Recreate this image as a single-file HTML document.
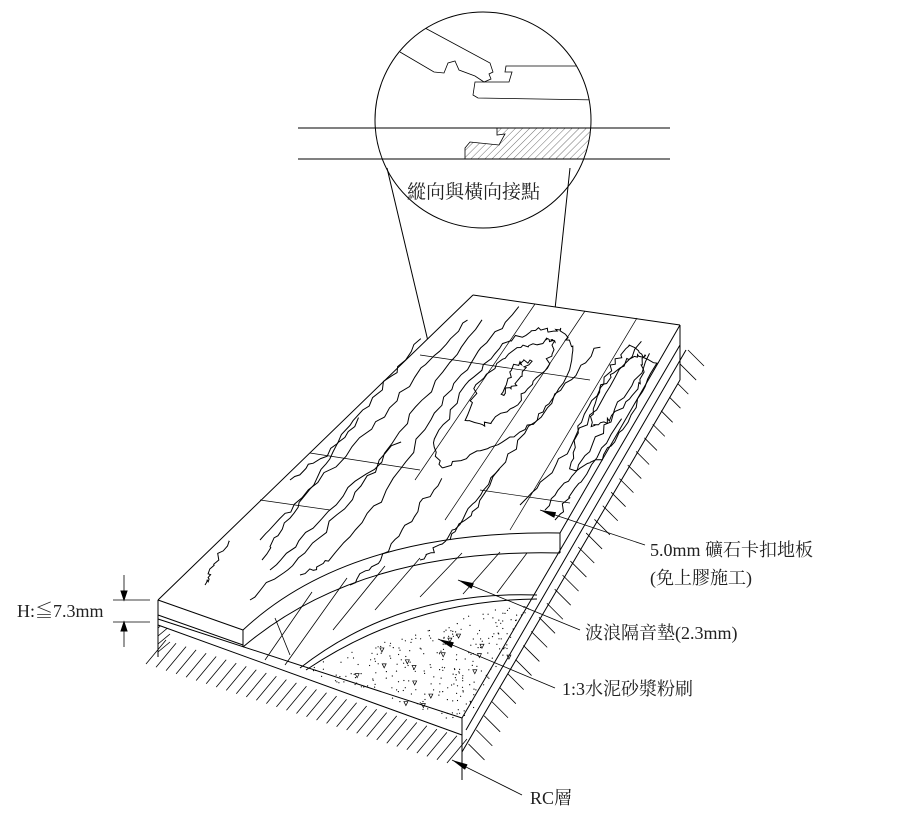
<!DOCTYPE html>
<html><head><meta charset="utf-8"><style>
html,body{margin:0;padding:0;background:#fff;overflow:hidden;width:916px;height:828px}
svg{display:block}
text{font-family:"Liberation Serif","Noto Serif CJK SC","Noto Sans CJK TC",serif;fill:#222}
</style></head><body>
<svg id="s" width="916" height="828" viewBox="0 0 916 828" xmlns="http://www.w3.org/2000/svg">
<defs>
<pattern id="h" width="5" height="5" patternUnits="userSpaceOnUse" patternTransform="rotate(45)"><line x1="0" y1="0" x2="0" y2="5" stroke="#333" stroke-width="0.7"/></pattern>
<clipPath id="cc"><circle cx="483" cy="120" r="108"/></clipPath>
<marker id="ar" markerWidth="16" markerHeight="6" refX="16" refY="3" orient="auto" markerUnits="userSpaceOnUse"><path d="M16,3 L0,0 L0,6 Z" fill="#000"/></marker>
</defs>
<g fill="none" stroke="#000" stroke-width="1">
<circle cx="483" cy="120" r="108"/>
<line x1="298" y1="128" x2="670" y2="128"/>
<line x1="298" y1="159" x2="670" y2="159"/>
<g clip-path="url(#cc)" stroke-width="0.8">
<path d="M425,28 L490,63 L493,72 L489,74 L491,79 L484,82 L475,76 L459,70 L455,61 L448,63 L444,73 L434,72 L400,52"/>
<path d="M586,66 L506,66 L505,72 L512,72 L509,82 L475,82 L473,95 L478,98 L600,100"/>
<path d="M497,128 L497,135 L505,134 L499,145 L470,142 L465,148 L465,159 L600,159 L600,128 Z" fill="url(#h)"/>
</g>
<line x1="387" y1="168" x2="440" y2="392"/>
<line x1="570" y1="168" x2="548" y2="375"/>
<circle cx="442" cy="397" r="7"/>
<circle cx="548" cy="380" r="7"/>

<g id="hatch" stroke-width="0.8"></g>
<path d="M473,295 L680,325 L680,380 L462,735 L158,625 L158,600 Z" fill="#fff" stroke="none"/>
<line x1="473" y1="295" x2="680" y2="325"/>
<line x1="473" y1="295" x2="158" y2="600"/>
<line x1="680" y1="325" x2="680" y2="380"/>
<line x1="680" y1="325" x2="560" y2="533"/>
<line x1="560" y1="533" x2="560" y2="553"/>
<line x1="680" y1="345" x2="462" y2="718"/>
<line x1="686" y1="350" x2="466" y2="730"/>
<line x1="680" y1="380" x2="462" y2="752"/>
<line x1="158" y1="600" x2="158" y2="657"/>
<line x1="158" y1="600" x2="243" y2="630"/>
<line x1="158" y1="615" x2="243" y2="645"/>
<line x1="158" y1="619" x2="462" y2="718"/>
<line x1="158" y1="625" x2="462" y2="735"/>
<line x1="462" y1="718" x2="462" y2="780"/>
<line x1="243" y1="630" x2="243" y2="647"/>
<path d="M243,630 Q350,530 560,533"/>
<path d="M243,647 Q360,548 560,553"/>
<path d="M300,668 Q400,590 537,595"/>
<path d="M306,670 Q410,600 537,599"/>
<g stroke-width="0.8">
<line x1="275" y1="618" x2="290" y2="655"/>
<line x1="312" y1="592" x2="265" y2="660"/>
<line x1="347" y1="578" x2="285" y2="665"/>
<line x1="385" y1="566" x2="333" y2="630"/>
<line x1="420" y1="558" x2="375" y2="610"/>
<line x1="462" y1="553" x2="420" y2="597"/>
<line x1="500" y1="552" x2="463" y2="594"/>
<line x1="527" y1="553" x2="497" y2="593"/>
</g>
<g stroke-width="0.7">
<line x1="535" y1="304" x2="415" y2="480"/>
<line x1="585" y1="311" x2="445" y2="520"/>
<line x1="637" y1="318" x2="510" y2="530"/>
<line x1="310" y1="453" x2="420" y2="470"/>
<line x1="420" y1="355" x2="590" y2="380"/>
<line x1="260" y1="500" x2="330" y2="510"/>
<line x1="480" y1="490" x2="570" y2="503"/>
</g>
<g id="grain" stroke-width="1"></g>
<g id="dots" stroke="none" fill="#000"></g>
<line x1="113" y1="600" x2="150" y2="600" stroke-width="0.8"/>
<line x1="113" y1="622" x2="150" y2="622" stroke-width="0.8"/>
<line x1="124" y1="575" x2="124" y2="600" stroke-width="0.8"/>
<line x1="124" y1="622" x2="124" y2="647" stroke-width="0.8"/>
<path d="M121,591 L124,600 L127,591 Z M121,631 L124,622 L127,631 Z" fill="#000"/>
<line x1="645" y1="545" x2="540" y2="510" marker-end="url(#ar)" stroke-width="0.8"/>
<line x1="580" y1="630" x2="458" y2="580" marker-end="url(#ar)" stroke-width="0.8"/>
<line x1="555" y1="688" x2="438" y2="639" marker-end="url(#ar)" stroke-width="0.8"/>
<line x1="522" y1="795" x2="452" y2="760" marker-end="url(#ar)" stroke-width="0.8"/>
</g>
<text x="407" y="198" font-size="19">縱向與橫向接點</text>
<text x="650" y="556" font-size="18">5.0mm 礦石卡扣地板</text>
<text x="650" y="584" font-size="18">(免上膠施工)</text>
<text x="585" y="639" font-size="18">波浪隔音墊(2.3mm)</text>
<text x="562" y="695" font-size="18">1:3水泥砂漿粉刷</text>
<text x="530" y="804" font-size="18">RC層</text>
<text x="17" y="617" font-size="18">H:≦7.3mm</text>
</svg>
<script>
var seed=7;function r(){seed=(seed*16807)%2147483647;return seed/2147483647;}
var NS='http://www.w3.org/2000/svg';
function ln(par,x1,y1,x2,y2){var l=document.createElementNS(NS,'line');l.setAttribute('x1',x1);l.setAttribute('y1',y1);l.setAttribute('x2',x2);l.setAttribute('y2',y2);par.appendChild(l);}
var h=document.getElementById('hatch');
// front edge hatch (below line 158,625 -> 462,735), down-left strokes
for(var t=0;t<=1;t+=0.033){var x=158+304*t,y=640+100*t;ln(h,x+8,y,x-12,y+24);}
// left face
for(var y=628;y<=655;y+=8){ln(h,158,y,170,y-10);}
// right side hatch: along line 686,350 -> 462,752
for(var t=0;t<=1;t+=0.035){var x=686-224*t,y=350+402*t;ln(h,x+2,y,x+18,y+16);}
var g=document.getElementById('grain');
function wig(pts,closed){var d='';for(var i=0;i<pts.length-1;i++){var a=pts[i],b=pts[i+1];var n=8;for(var k=0;k<n;k++){var t=k/n;var x=a[0]+(b[0]-a[0])*t+(r()-0.5)*5,y=a[1]+(b[1]-a[1])*t+(r()-0.5)*5;d+=(d?'L':'M')+x.toFixed(1)+','+y.toFixed(1);}}
var l=pts[pts.length-1];d+='L'+l[0]+','+l[1];if(closed)d+='Z';var p=document.createElementNS(NS,'path');p.setAttribute('d',d);g.appendChild(p);}
var lines=[
[[470,318],[420,370],[370,430],[300,500],[260,540]],
[[480,320],[430,390],[380,460],[320,520],[270,570]],
[[520,308],[470,360],[430,420],[380,500],[330,560],[300,575]],
[[400,440],[350,500],[300,560],[250,600]],
[[640,340],[600,400],[560,460],[520,505]],
[[650,355],[610,420],[575,470],[545,510]],
[[620,420],[580,480],[555,520]],
[[360,420],[320,470],[290,520],[262,560]],
[[230,540],[210,570],[205,585]],
[[440,480],[410,520],[380,560],[350,585]],
[[500,470],[470,510],[440,545],[420,560]],
[[600,345],[560,390],[520,440],[480,500],[450,540]],
[[420,340],[380,390],[330,450],[290,480]]
];
lines.forEach(function(p){wig(p,false)});
var loops=[
[[560,330],[575,350],[555,400],[525,430],[480,450],[440,470],[435,440],[470,380],[510,340],[540,330],[560,330]],
[[555,342],[545,370],[520,400],[490,425],[465,420],[480,380],[515,350],[545,340],[555,342]],
[[530,360],[515,385],[500,395],[515,365],[530,360]],
[[645,355],[640,385],[610,420],[590,425],[600,390],[625,360],[645,355]],
[[630,345],[655,365],[630,420],[600,460],[570,470],[580,420],[610,370],[630,345]]
];
loops.forEach(function(p){wig(p,true)});
var dg=document.getElementById('dots');
for(var i=0;i<700;i++){var x=300+r()*250,y=595+r()*140;
 if(y>670+(x-300)*0.33)continue; if(x>537-(y-595)*0.56)continue; var ay=668-(x-300)*(73/237); if(y<ay)continue;
 var c=document.createElementNS(NS,'circle');c.setAttribute('cx',x.toFixed(1));c.setAttribute('cy',y.toFixed(1));c.setAttribute('r',0.6);dg.appendChild(c);
 if(r()<0.07){var p=document.createElementNS(NS,'path');p.setAttribute('d','M'+(x+4)+','+y+'l4,0l-2,4z');p.setAttribute('fill','none');p.setAttribute('stroke','#000');p.setAttribute('stroke-width','0.7');dg.appendChild(p);}}
</script>
</body></html>
